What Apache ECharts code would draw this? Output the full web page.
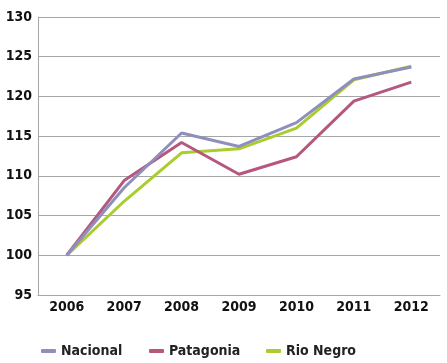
<!DOCTYPE html>
<html><head><meta charset="utf-8">
<script src="https://cdn.jsdelivr.net/npm/echarts@6/dist/echarts.min.js"></script>
<style>html,body{margin:0;padding:0;background:#fff}#c{width:447px;height:363px}</style>
</head><body><div id="c"></div>
<script>
const years = ['2006','2007','2008','2009','2010','2011','2012'];
const nacional = [100, 108.5, 115.4, 113.7, 116.7, 122.2, 123.7];
const patagonia = [100, 109.4, 114.2, 110.2, 112.4, 119.4, 121.8];
const rioNegro = [100, 106.8, 112.9, 113.4, 116.0, 122.1, 123.8];
const yTicks = [95, 130, 5];
const seriesNames = ['Nacional','Patagonia','Rio Negro'];

const FONT = '"DejaVu Sans Condensed", "Liberation Sans Narrow", sans-serif';
const chart = echarts.init(document.getElementById('c'), null, {renderer:'canvas'});
function s(name, data, color){
  return {name, type:'line', data, symbol:'none', smooth:false,
    lineStyle:{color, width:3}, itemStyle:{color}};
}
const legendLefts = [36, 144, 261];
const legendStyle = {color:'#222', fontFamily:FONT, fontWeight:'bold', fontSize:14};
chart.setOption({
  animation:false,
  textStyle:{fontFamily:FONT},
  grid:{left:38, right:7, top:17, bottom:68, outerBoundsMode:'none', containLabel:false},
  xAxis:{type:'category', data:years, boundaryGap:true,
    axisLine:{lineStyle:{color:'#a6a6a6', width:1}}, axisTick:{show:false},
    axisLabel:{color:'#111', fontFamily:FONT, fontWeight:'bold', fontSize:14, margin:5}},
  yAxis:{type:'value', min:yTicks[0], max:yTicks[1], interval:yTicks[2],
    axisLine:{show:true, lineStyle:{color:'#a6a6a6', width:1}}, axisTick:{show:false},
    splitLine:{lineStyle:{color:'#a6a6a6', width:1}},
    axisLabel:{color:'#111', fontFamily:FONT, fontWeight:'bold', fontSize:14, margin:6}},
  legend: seriesNames.map((n,i)=>({left:legendLefts[i], top:339, itemWidth:15, itemHeight:4, itemGap:6,
    icon:'roundRect', textStyle:legendStyle, data:[n]})),
  series:[s('Rio Negro', rioNegro, '#a9cd2c'), s('Patagonia', patagonia, '#b5587f'), s('Nacional', nacional, '#8e8fbd')]
});
</script></body></html>
